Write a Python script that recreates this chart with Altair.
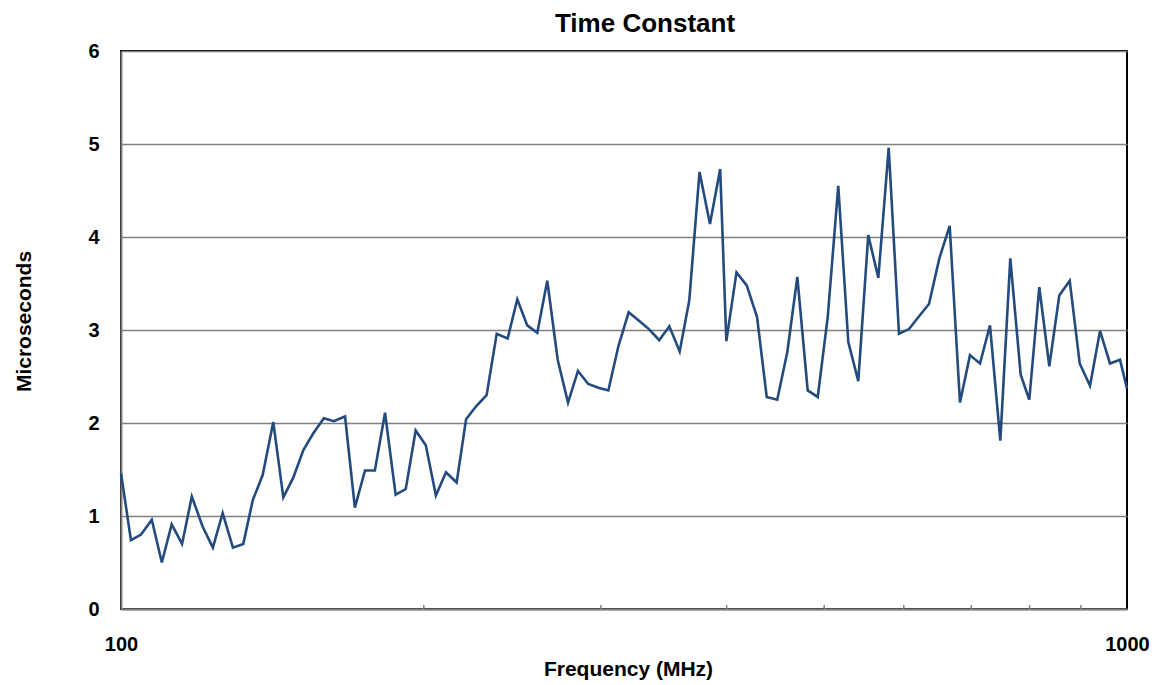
import altair as alt
import pandas as pd

freq_mhz = [100.0, 102.3, 104.7, 107.3, 109.8, 112.3, 115.0, 117.6, 120.5, 123.4,
            126.2, 129.2, 132.3, 135.2, 138.3, 141.7, 145.0, 148.3, 151.8, 155.3,
            159.1, 162.8, 167.0, 170.8, 174.8, 178.8, 183.0, 187.5, 191.9, 196.3,
            200.9, 205.6, 210.4, 215.6, 220.3, 225.4, 230.9, 236.3, 242.3, 247.7,
            253.4, 259.3, 265.3, 271.7, 278.2, 284.6, 291.4, 298.2, 305.1, 312.1,
            319.6, 327.3, 334.8, 342.8, 350.8, 359.2, 367.2, 375.9, 385.0, 394.1,
            399.7, 409.1, 418.8, 428.8, 438.4, 449.1, 459.5, 470.2, 481.5, 492.7,
            504.1, 516.4, 528.4, 540.6, 553.1, 566.0, 579.6, 593.4, 607.2, 621.6,
            635.6, 650.8, 666.4, 682.3, 698.1, 714.3, 730.8, 748.3, 765.6, 784.0,
            799.6, 818.1, 837.1, 856.4, 877.1, 897.4, 918.8, 940.1, 961.8, 984.1,
            1000.0]

time_us = [1.46, 0.74, 0.80, 0.96, 0.50, 0.91, 0.70, 1.21, 0.89, 0.66,
           1.03, 0.66, 0.70, 1.17, 1.44, 2.01, 1.20, 1.41, 1.71, 1.89,
           2.05, 2.02, 2.07, 1.09, 1.49, 1.49, 2.11, 1.23, 1.29, 1.92,
           1.76, 1.22, 1.47, 1.36, 2.04, 2.18, 2.30, 2.96, 2.91, 3.33,
           3.05, 2.97, 3.53, 2.68, 2.22, 2.56, 2.42, 2.38, 2.35, 2.82,
           3.19, 3.10, 3.01, 2.89, 3.04, 2.77, 3.32, 4.70, 4.14, 4.73,
           2.88, 3.62, 3.48, 3.14, 2.28, 2.25, 2.76, 3.57, 2.35, 2.28,
           3.14, 4.55, 2.87, 2.45, 4.02, 3.56, 4.96, 2.96, 3.01, 3.15,
           3.28, 3.77, 4.12, 2.22, 2.73, 2.64, 3.05, 1.81, 3.77, 2.52,
           2.25, 3.46, 2.61, 3.37, 3.53, 2.64, 2.40, 2.99, 2.64, 2.68,
           2.37]

x_label_values = [100, 1000]
minor_ticks = [200, 300, 400, 500, 600, 700, 800, 900]
y_ticks = [0, 1, 2, 3, 4, 5, 6]

FONT = "Liberation Sans"
W, H = 1006, 558

df = pd.DataFrame({"freq": freq_mhz, "tc": time_us})
ticks_df = pd.DataFrame({"freq": minor_ticks})

xscale = alt.Scale(type="log", domain=[100, 1000], nice=False)
yscale = alt.Scale(domain=[0, 6], nice=False)

line = alt.Chart(df).mark_line(color="#234B7E", strokeWidth=2.6).encode(
    x=alt.X("freq:Q", scale=xscale,
            axis=alt.Axis(values=x_label_values, title="Frequency (MHz)",
                          format="d",
                          grid=False, ticks=False, tickSize=0,
                          labelPadding=25, labelFontSize=20, labelFont=FONT,
                          labelFontWeight="bold", labelColor="#000000",
                          labelBaseline="top", labelFlush=False,
                          domainColor="#808080", domainWidth=2,
                          titleFont=FONT, titleFontSize=21, titleFontWeight="bold",
                          titleColor="#000000", titleX=507, titleY=66,
                          titleAlign="center", titleBaseline="alphabetic")),
    y=alt.Y("tc:Q", scale=yscale,
            axis=alt.Axis(values=y_ticks, title="Microseconds", format="d",
                          grid=True, gridColor="#808080", gridWidth=1.3,
                          ticks=False, tickSize=0, labelPadding=22,
                          labelFontSize=20, labelFont=FONT, labelFontWeight="bold",
                          labelColor="#000000",
                          domainColor="#808080", domainWidth=2,
                          titleFont=FONT, titleFontSize=21, titleFontWeight="bold",
                          titleColor="#000000", titleAngle=270, titleX=-97,
                          titleY=270, titleAlign="center", titleBaseline="middle")),
)

minor = alt.Chart(ticks_df).mark_rule(color="#808080", strokeWidth=1.5).encode(
    x=alt.X("freq:Q", scale=xscale),
    y=alt.value(H),
    y2=alt.value(H - 4),
)

chart = alt.layer(minor, line).properties(
    width=W, height=H,
    title=alt.TitleParams("Time Constant", font=FONT, fontSize=26,
                          fontWeight="bold", color="#000000",
                          anchor="middle", dx=21, dy=0),
    autosize=alt.AutoSizeParams(type="none"),
    padding={"left": 113, "top": 43, "right": 23, "bottom": 76},
).configure_view(stroke="#000000", strokeWidth=2)

chart.save("out.html", embed_options={"renderer": "svg", "actions": False})
